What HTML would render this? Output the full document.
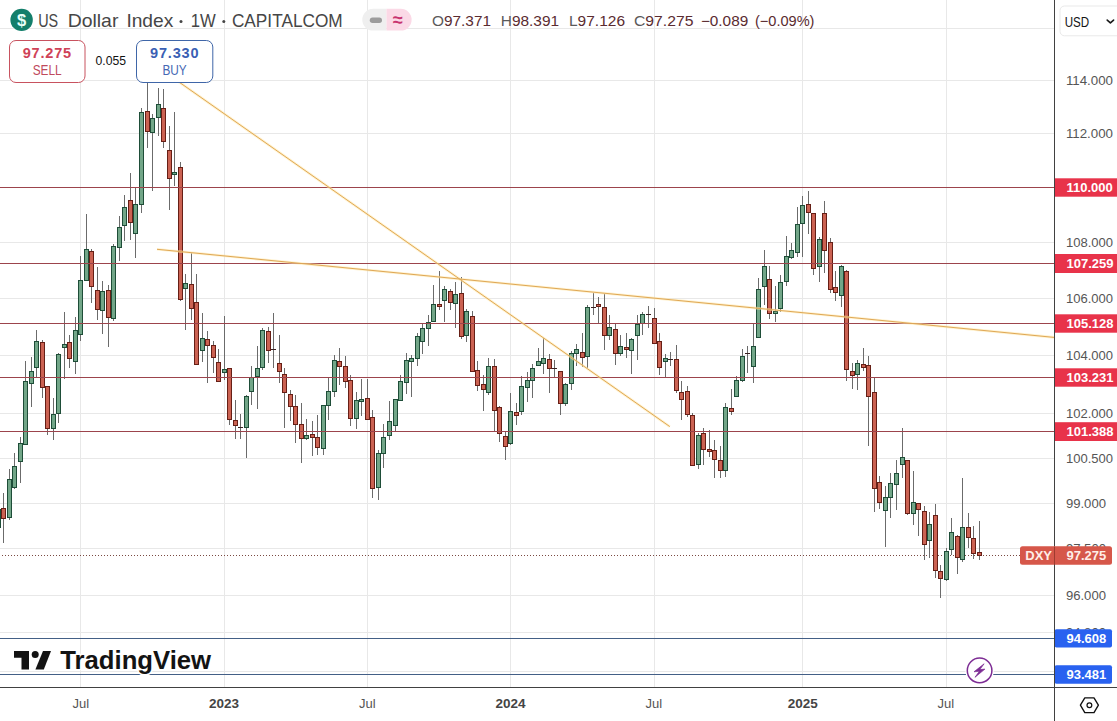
<!DOCTYPE html>
<html><head><meta charset="utf-8"><title>US Dollar Index</title>
<style>html,body{margin:0;padding:0;background:#fff;}body{width:1117px;height:721px;overflow:hidden;position:relative;font-family:"Liberation Sans",sans-serif;}</style></head>
<body>
<svg width="1117" height="721" viewBox="0 0 1117 721" style="position:absolute;left:0;top:0;font-family:'Liberation Sans',sans-serif">
<rect width="1117" height="721" fill="#fff"/>
<g stroke="#e8e8e8" stroke-width="1" shape-rendering="crispEdges">
<line x1="80.5" y1="0" x2="80.5" y2="687.5"/>
<line x1="224.5" y1="0" x2="224.5" y2="687.5"/>
<line x1="367.5" y1="0" x2="367.5" y2="687.5"/>
<line x1="510.5" y1="0" x2="510.5" y2="687.5"/>
<line x1="654.5" y1="0" x2="654.5" y2="687.5"/>
<line x1="802.5" y1="0" x2="802.5" y2="687.5"/>
<line x1="946.5" y1="0" x2="946.5" y2="687.5"/>
<line x1="0" y1="28.5" x2="1054.5" y2="28.5"/>
<line x1="0" y1="80.5" x2="1054.5" y2="80.5"/>
<line x1="0" y1="133.5" x2="1054.5" y2="133.5"/>
<line x1="0" y1="242.5" x2="1054.5" y2="242.5"/>
<line x1="0" y1="298.5" x2="1054.5" y2="298.5"/>
<line x1="0" y1="355.5" x2="1054.5" y2="355.5"/>
<line x1="0" y1="413.5" x2="1054.5" y2="413.5"/>
<line x1="0" y1="458.5" x2="1054.5" y2="458.5"/>
<line x1="0" y1="503.5" x2="1054.5" y2="503.5"/>
<line x1="0" y1="548.5" x2="1054.5" y2="548.5"/>
<line x1="0" y1="595.5" x2="1054.5" y2="595.5"/>
<line x1="0" y1="632.5" x2="1054.5" y2="632.5"/>
<line x1="0" y1="671.5" x2="1054.5" y2="671.5"/>
</g>
<line x1="2" y1="555.5" x2="1021" y2="555.5" stroke="#7a4a42" stroke-width="1" stroke-dasharray="1 2" shape-rendering="crispEdges"/>
<g shape-rendering="crispEdges">
<line x1="-1.5" y1="509" x2="-1.5" y2="527" stroke="#6b6b6b" stroke-width="1"/>
<rect x="-3.5" y="509.5" width="4" height="18" fill="#72a688" stroke="#1e4d38" stroke-width="1"/>
<line x1="3.5" y1="493" x2="3.5" y2="543" stroke="#6b6b6b" stroke-width="1"/>
<rect x="1.5" y="508.5" width="4" height="10" fill="#cb6252" stroke="#661f16" stroke-width="1"/>
<line x1="9.5" y1="469" x2="9.5" y2="520" stroke="#6b6b6b" stroke-width="1"/>
<rect x="7.5" y="479.5" width="4" height="38" fill="#72a688" stroke="#1e4d38" stroke-width="1"/>
<line x1="14.5" y1="453" x2="14.5" y2="489" stroke="#6b6b6b" stroke-width="1"/>
<rect x="12.5" y="466.5" width="4" height="21" fill="#72a688" stroke="#1e4d38" stroke-width="1"/>
<line x1="20.5" y1="437" x2="20.5" y2="483" stroke="#6b6b6b" stroke-width="1"/>
<rect x="18.5" y="443.5" width="4" height="18" fill="#72a688" stroke="#1e4d38" stroke-width="1"/>
<line x1="25.5" y1="361" x2="25.5" y2="444" stroke="#6b6b6b" stroke-width="1"/>
<rect x="23.5" y="381.5" width="4" height="63" fill="#72a688" stroke="#1e4d38" stroke-width="1"/>
<line x1="31.5" y1="357" x2="31.5" y2="407" stroke="#6b6b6b" stroke-width="1"/>
<rect x="29.5" y="371.5" width="4" height="12" fill="#72a688" stroke="#1e4d38" stroke-width="1"/>
<line x1="36.5" y1="330" x2="36.5" y2="378" stroke="#6b6b6b" stroke-width="1"/>
<rect x="34.5" y="341.5" width="4" height="26" fill="#72a688" stroke="#1e4d38" stroke-width="1"/>
<line x1="42.5" y1="340" x2="42.5" y2="398" stroke="#6b6b6b" stroke-width="1"/>
<rect x="40.5" y="342.5" width="4" height="45" fill="#cb6252" stroke="#661f16" stroke-width="1"/>
<line x1="47.5" y1="386" x2="47.5" y2="435" stroke="#6b6b6b" stroke-width="1"/>
<rect x="45.5" y="386.5" width="4" height="42" fill="#cb6252" stroke="#661f16" stroke-width="1"/>
<line x1="53.5" y1="398" x2="53.5" y2="440" stroke="#6b6b6b" stroke-width="1"/>
<rect x="51.5" y="414.5" width="4" height="14" fill="#72a688" stroke="#1e4d38" stroke-width="1"/>
<line x1="58.5" y1="353" x2="58.5" y2="423" stroke="#6b6b6b" stroke-width="1"/>
<rect x="56.5" y="354.5" width="4" height="59" fill="#72a688" stroke="#1e4d38" stroke-width="1"/>
<line x1="64.5" y1="312" x2="64.5" y2="379" stroke="#6b6b6b" stroke-width="1"/>
<rect x="62.5" y="344.5" width="4" height="3" fill="#72a688" stroke="#1e4d38" stroke-width="1"/>
<line x1="69.5" y1="335" x2="69.5" y2="368" stroke="#6b6b6b" stroke-width="1"/>
<rect x="67.5" y="342.5" width="4" height="16" fill="#cb6252" stroke="#661f16" stroke-width="1"/>
<line x1="75.5" y1="317" x2="75.5" y2="374" stroke="#6b6b6b" stroke-width="1"/>
<rect x="73.5" y="330.5" width="4" height="31" fill="#72a688" stroke="#1e4d38" stroke-width="1"/>
<line x1="80.5" y1="256" x2="80.5" y2="341" stroke="#6b6b6b" stroke-width="1"/>
<rect x="78.5" y="280.5" width="4" height="54" fill="#72a688" stroke="#1e4d38" stroke-width="1"/>
<line x1="86.5" y1="214" x2="86.5" y2="281" stroke="#6b6b6b" stroke-width="1"/>
<rect x="84.5" y="249.5" width="4" height="31" fill="#72a688" stroke="#1e4d38" stroke-width="1"/>
<line x1="91.5" y1="249" x2="91.5" y2="303" stroke="#6b6b6b" stroke-width="1"/>
<rect x="89.5" y="251.5" width="4" height="35" fill="#cb6252" stroke="#661f16" stroke-width="1"/>
<line x1="97.5" y1="267" x2="97.5" y2="320" stroke="#6b6b6b" stroke-width="1"/>
<rect x="95.5" y="290.5" width="4" height="19" fill="#cb6252" stroke="#661f16" stroke-width="1"/>
<line x1="102.5" y1="281" x2="102.5" y2="334" stroke="#6b6b6b" stroke-width="1"/>
<rect x="100.5" y="291.5" width="4" height="19" fill="#72a688" stroke="#1e4d38" stroke-width="1"/>
<line x1="108.5" y1="285" x2="108.5" y2="347" stroke="#6b6b6b" stroke-width="1"/>
<rect x="106.5" y="290.5" width="4" height="27" fill="#cb6252" stroke="#661f16" stroke-width="1"/>
<line x1="113.5" y1="244" x2="113.5" y2="321" stroke="#6b6b6b" stroke-width="1"/>
<rect x="111.5" y="246.5" width="4" height="72" fill="#72a688" stroke="#1e4d38" stroke-width="1"/>
<line x1="119.5" y1="216" x2="119.5" y2="261" stroke="#6b6b6b" stroke-width="1"/>
<rect x="117.5" y="227.5" width="4" height="20" fill="#72a688" stroke="#1e4d38" stroke-width="1"/>
<line x1="124.5" y1="195" x2="124.5" y2="241" stroke="#6b6b6b" stroke-width="1"/>
<rect x="122.5" y="207.5" width="4" height="18" fill="#72a688" stroke="#1e4d38" stroke-width="1"/>
<line x1="130.5" y1="173" x2="130.5" y2="240" stroke="#6b6b6b" stroke-width="1"/>
<rect x="128.5" y="200.5" width="4" height="22" fill="#cb6252" stroke="#661f16" stroke-width="1"/>
<line x1="135.5" y1="188" x2="135.5" y2="258" stroke="#6b6b6b" stroke-width="1"/>
<rect x="133.5" y="204.5" width="4" height="29" fill="#72a688" stroke="#1e4d38" stroke-width="1"/>
<line x1="141.5" y1="108" x2="141.5" y2="213" stroke="#6b6b6b" stroke-width="1"/>
<rect x="139.5" y="112.5" width="4" height="92" fill="#72a688" stroke="#1e4d38" stroke-width="1"/>
<line x1="147.5" y1="80" x2="147.5" y2="148" stroke="#6b6b6b" stroke-width="1"/>
<rect x="145.5" y="111.5" width="4" height="20" fill="#cb6252" stroke="#661f16" stroke-width="1"/>
<line x1="152.5" y1="114" x2="152.5" y2="191" stroke="#6b6b6b" stroke-width="1"/>
<rect x="150.5" y="118.5" width="4" height="14" fill="#72a688" stroke="#1e4d38" stroke-width="1"/>
<line x1="158.5" y1="88" x2="158.5" y2="136" stroke="#6b6b6b" stroke-width="1"/>
<rect x="156.5" y="104.5" width="4" height="13" fill="#72a688" stroke="#1e4d38" stroke-width="1"/>
<line x1="163.5" y1="89" x2="163.5" y2="148" stroke="#6b6b6b" stroke-width="1"/>
<rect x="161.5" y="108.5" width="4" height="33" fill="#cb6252" stroke="#661f16" stroke-width="1"/>
<line x1="169.5" y1="126" x2="169.5" y2="210" stroke="#6b6b6b" stroke-width="1"/>
<rect x="167.5" y="150.5" width="4" height="28" fill="#cb6252" stroke="#661f16" stroke-width="1"/>
<line x1="174.5" y1="112" x2="174.5" y2="186" stroke="#6b6b6b" stroke-width="1"/>
<rect x="172.5" y="172.5" width="4" height="2" fill="#72a688" stroke="#1e4d38" stroke-width="1"/>
<line x1="180.5" y1="162" x2="180.5" y2="301" stroke="#6b6b6b" stroke-width="1"/>
<rect x="178.5" y="167.5" width="4" height="132" fill="#cb6252" stroke="#661f16" stroke-width="1"/>
<line x1="185.5" y1="274" x2="185.5" y2="330" stroke="#6b6b6b" stroke-width="1"/>
<rect x="183.5" y="283.5" width="4" height="5" fill="#72a688" stroke="#1e4d38" stroke-width="1"/>
<line x1="191.5" y1="253" x2="191.5" y2="320" stroke="#6b6b6b" stroke-width="1"/>
<rect x="189.5" y="284.5" width="4" height="24" fill="#cb6252" stroke="#661f16" stroke-width="1"/>
<line x1="196.5" y1="274" x2="196.5" y2="364" stroke="#6b6b6b" stroke-width="1"/>
<rect x="194.5" y="302.5" width="4" height="62" fill="#cb6252" stroke="#661f16" stroke-width="1"/>
<line x1="202.5" y1="313" x2="202.5" y2="362" stroke="#6b6b6b" stroke-width="1"/>
<rect x="200.5" y="338.5" width="4" height="12" fill="#72a688" stroke="#1e4d38" stroke-width="1"/>
<line x1="207.5" y1="331" x2="207.5" y2="383" stroke="#6b6b6b" stroke-width="1"/>
<rect x="205.5" y="339.5" width="4" height="6" fill="#cb6252" stroke="#661f16" stroke-width="1"/>
<line x1="213.5" y1="341" x2="213.5" y2="373" stroke="#6b6b6b" stroke-width="1"/>
<rect x="211.5" y="345.5" width="4" height="12" fill="#cb6252" stroke="#661f16" stroke-width="1"/>
<line x1="218.5" y1="349" x2="218.5" y2="382" stroke="#6b6b6b" stroke-width="1"/>
<rect x="216.5" y="362.5" width="4" height="19" fill="#cb6252" stroke="#661f16" stroke-width="1"/>
<line x1="224.5" y1="316" x2="224.5" y2="380" stroke="#6b6b6b" stroke-width="1"/>
<rect x="222.5" y="369.5" width="4" height="3" fill="#72a688" stroke="#1e4d38" stroke-width="1"/>
<line x1="229.5" y1="368" x2="229.5" y2="425" stroke="#6b6b6b" stroke-width="1"/>
<rect x="227.5" y="368.5" width="4" height="51" fill="#cb6252" stroke="#661f16" stroke-width="1"/>
<line x1="235.5" y1="400" x2="235.5" y2="439" stroke="#6b6b6b" stroke-width="1"/>
<rect x="233.5" y="420.5" width="4" height="5" fill="#cb6252" stroke="#661f16" stroke-width="1"/>
<line x1="240.5" y1="414" x2="240.5" y2="439" stroke="#6b6b6b" stroke-width="1"/>
<rect x="238" y="427" width="5" height="1" fill="#3a2020"/>
<line x1="246.5" y1="395" x2="246.5" y2="458" stroke="#6b6b6b" stroke-width="1"/>
<rect x="244.5" y="396.5" width="4" height="31" fill="#72a688" stroke="#1e4d38" stroke-width="1"/>
<line x1="251.5" y1="366" x2="251.5" y2="405" stroke="#6b6b6b" stroke-width="1"/>
<rect x="249.5" y="377.5" width="4" height="14" fill="#72a688" stroke="#1e4d38" stroke-width="1"/>
<line x1="257.5" y1="346" x2="257.5" y2="409" stroke="#6b6b6b" stroke-width="1"/>
<rect x="255.5" y="368.5" width="4" height="8" fill="#72a688" stroke="#1e4d38" stroke-width="1"/>
<line x1="262.5" y1="328" x2="262.5" y2="370" stroke="#6b6b6b" stroke-width="1"/>
<rect x="260.5" y="330.5" width="4" height="37" fill="#72a688" stroke="#1e4d38" stroke-width="1"/>
<line x1="268.5" y1="327" x2="268.5" y2="363" stroke="#6b6b6b" stroke-width="1"/>
<rect x="266.5" y="331.5" width="4" height="19" fill="#cb6252" stroke="#661f16" stroke-width="1"/>
<line x1="273.5" y1="313" x2="273.5" y2="368" stroke="#6b6b6b" stroke-width="1"/>
<rect x="271" y="349" width="5" height="1" fill="#3a2020"/>
<line x1="279.5" y1="335" x2="279.5" y2="383" stroke="#6b6b6b" stroke-width="1"/>
<rect x="277.5" y="363.5" width="4" height="8" fill="#cb6252" stroke="#661f16" stroke-width="1"/>
<line x1="284.5" y1="368" x2="284.5" y2="428" stroke="#6b6b6b" stroke-width="1"/>
<rect x="282.5" y="374.5" width="4" height="18" fill="#cb6252" stroke="#661f16" stroke-width="1"/>
<line x1="290.5" y1="390" x2="290.5" y2="421" stroke="#6b6b6b" stroke-width="1"/>
<rect x="288.5" y="394.5" width="4" height="12" fill="#cb6252" stroke="#661f16" stroke-width="1"/>
<line x1="295.5" y1="395" x2="295.5" y2="443" stroke="#6b6b6b" stroke-width="1"/>
<rect x="293.5" y="406.5" width="4" height="18" fill="#cb6252" stroke="#661f16" stroke-width="1"/>
<line x1="301.5" y1="403" x2="301.5" y2="463" stroke="#6b6b6b" stroke-width="1"/>
<rect x="299.5" y="424.5" width="4" height="14" fill="#cb6252" stroke="#661f16" stroke-width="1"/>
<line x1="306.5" y1="419" x2="306.5" y2="440" stroke="#6b6b6b" stroke-width="1"/>
<rect x="304.5" y="435.5" width="4" height="3" fill="#72a688" stroke="#1e4d38" stroke-width="1"/>
<line x1="312.5" y1="421" x2="312.5" y2="456" stroke="#6b6b6b" stroke-width="1"/>
<rect x="310.5" y="434.5" width="4" height="3" fill="#cb6252" stroke="#661f16" stroke-width="1"/>
<line x1="317.5" y1="415" x2="317.5" y2="455" stroke="#6b6b6b" stroke-width="1"/>
<rect x="315.5" y="437.5" width="4" height="10" fill="#cb6252" stroke="#661f16" stroke-width="1"/>
<line x1="323.5" y1="405" x2="323.5" y2="455" stroke="#6b6b6b" stroke-width="1"/>
<rect x="321.5" y="405.5" width="4" height="43" fill="#72a688" stroke="#1e4d38" stroke-width="1"/>
<line x1="328.5" y1="378" x2="328.5" y2="420" stroke="#6b6b6b" stroke-width="1"/>
<rect x="326.5" y="391.5" width="4" height="14" fill="#72a688" stroke="#1e4d38" stroke-width="1"/>
<line x1="334.5" y1="355" x2="334.5" y2="397" stroke="#6b6b6b" stroke-width="1"/>
<rect x="332.5" y="360.5" width="4" height="31" fill="#72a688" stroke="#1e4d38" stroke-width="1"/>
<line x1="339.5" y1="348" x2="339.5" y2="385" stroke="#6b6b6b" stroke-width="1"/>
<rect x="337.5" y="361.5" width="4" height="5" fill="#cb6252" stroke="#661f16" stroke-width="1"/>
<line x1="345.5" y1="356" x2="345.5" y2="388" stroke="#6b6b6b" stroke-width="1"/>
<rect x="343.5" y="366.5" width="4" height="15" fill="#cb6252" stroke="#661f16" stroke-width="1"/>
<line x1="350.5" y1="375" x2="350.5" y2="426" stroke="#6b6b6b" stroke-width="1"/>
<rect x="348.5" y="380.5" width="4" height="38" fill="#cb6252" stroke="#661f16" stroke-width="1"/>
<line x1="356.5" y1="392" x2="356.5" y2="429" stroke="#6b6b6b" stroke-width="1"/>
<rect x="354.5" y="400.5" width="4" height="18" fill="#72a688" stroke="#1e4d38" stroke-width="1"/>
<line x1="361.5" y1="379" x2="361.5" y2="416" stroke="#6b6b6b" stroke-width="1"/>
<rect x="359.5" y="399.5" width="4" height="2" fill="#72a688" stroke="#1e4d38" stroke-width="1"/>
<line x1="367.5" y1="379" x2="367.5" y2="419" stroke="#6b6b6b" stroke-width="1"/>
<rect x="365.5" y="398.5" width="4" height="21" fill="#cb6252" stroke="#661f16" stroke-width="1"/>
<line x1="372.5" y1="410" x2="372.5" y2="498" stroke="#6b6b6b" stroke-width="1"/>
<rect x="370.5" y="417.5" width="4" height="71" fill="#cb6252" stroke="#661f16" stroke-width="1"/>
<line x1="378.5" y1="450" x2="378.5" y2="500" stroke="#6b6b6b" stroke-width="1"/>
<rect x="376.5" y="453.5" width="4" height="34" fill="#72a688" stroke="#1e4d38" stroke-width="1"/>
<line x1="383.5" y1="424" x2="383.5" y2="468" stroke="#6b6b6b" stroke-width="1"/>
<rect x="381.5" y="437.5" width="4" height="16" fill="#72a688" stroke="#1e4d38" stroke-width="1"/>
<line x1="389.5" y1="401" x2="389.5" y2="440" stroke="#6b6b6b" stroke-width="1"/>
<rect x="387.5" y="421.5" width="4" height="14" fill="#72a688" stroke="#1e4d38" stroke-width="1"/>
<line x1="395.5" y1="399" x2="395.5" y2="431" stroke="#6b6b6b" stroke-width="1"/>
<rect x="393.5" y="399.5" width="4" height="26" fill="#72a688" stroke="#1e4d38" stroke-width="1"/>
<line x1="400.5" y1="375" x2="400.5" y2="401" stroke="#6b6b6b" stroke-width="1"/>
<rect x="398.5" y="381.5" width="4" height="19" fill="#72a688" stroke="#1e4d38" stroke-width="1"/>
<line x1="406.5" y1="353" x2="406.5" y2="394" stroke="#6b6b6b" stroke-width="1"/>
<rect x="404.5" y="360.5" width="4" height="22" fill="#72a688" stroke="#1e4d38" stroke-width="1"/>
<line x1="411.5" y1="355" x2="411.5" y2="397" stroke="#6b6b6b" stroke-width="1"/>
<rect x="409.5" y="358.5" width="4" height="3" fill="#72a688" stroke="#1e4d38" stroke-width="1"/>
<line x1="417.5" y1="333" x2="417.5" y2="366" stroke="#6b6b6b" stroke-width="1"/>
<rect x="415.5" y="336.5" width="4" height="22" fill="#72a688" stroke="#1e4d38" stroke-width="1"/>
<line x1="422.5" y1="324" x2="422.5" y2="354" stroke="#6b6b6b" stroke-width="1"/>
<rect x="420.5" y="328.5" width="4" height="13" fill="#72a688" stroke="#1e4d38" stroke-width="1"/>
<line x1="428.5" y1="315" x2="428.5" y2="346" stroke="#6b6b6b" stroke-width="1"/>
<rect x="426.5" y="322.5" width="4" height="6" fill="#72a688" stroke="#1e4d38" stroke-width="1"/>
<line x1="433.5" y1="285" x2="433.5" y2="322" stroke="#6b6b6b" stroke-width="1"/>
<rect x="431.5" y="304.5" width="4" height="17" fill="#72a688" stroke="#1e4d38" stroke-width="1"/>
<line x1="439.5" y1="271" x2="439.5" y2="310" stroke="#6b6b6b" stroke-width="1"/>
<rect x="437.5" y="304.5" width="4" height="2" fill="#cb6252" stroke="#661f16" stroke-width="1"/>
<line x1="444.5" y1="286" x2="444.5" y2="322" stroke="#6b6b6b" stroke-width="1"/>
<rect x="442.5" y="289.5" width="4" height="11" fill="#72a688" stroke="#1e4d38" stroke-width="1"/>
<line x1="450.5" y1="289" x2="450.5" y2="310" stroke="#6b6b6b" stroke-width="1"/>
<rect x="448.5" y="291.5" width="4" height="11" fill="#cb6252" stroke="#661f16" stroke-width="1"/>
<line x1="455.5" y1="282" x2="455.5" y2="328" stroke="#6b6b6b" stroke-width="1"/>
<rect x="453.5" y="294.5" width="4" height="9" fill="#72a688" stroke="#1e4d38" stroke-width="1"/>
<line x1="461.5" y1="277" x2="461.5" y2="339" stroke="#6b6b6b" stroke-width="1"/>
<rect x="459.5" y="293.5" width="4" height="43" fill="#cb6252" stroke="#661f16" stroke-width="1"/>
<line x1="466.5" y1="309" x2="466.5" y2="342" stroke="#6b6b6b" stroke-width="1"/>
<rect x="464.5" y="311.5" width="4" height="24" fill="#72a688" stroke="#1e4d38" stroke-width="1"/>
<line x1="472.5" y1="311" x2="472.5" y2="371" stroke="#6b6b6b" stroke-width="1"/>
<rect x="470.5" y="316.5" width="4" height="55" fill="#cb6252" stroke="#661f16" stroke-width="1"/>
<line x1="477.5" y1="361" x2="477.5" y2="391" stroke="#6b6b6b" stroke-width="1"/>
<rect x="475.5" y="370.5" width="4" height="15" fill="#cb6252" stroke="#661f16" stroke-width="1"/>
<line x1="483.5" y1="375" x2="483.5" y2="411" stroke="#6b6b6b" stroke-width="1"/>
<rect x="481.5" y="384.5" width="4" height="5" fill="#cb6252" stroke="#661f16" stroke-width="1"/>
<line x1="488.5" y1="358" x2="488.5" y2="395" stroke="#6b6b6b" stroke-width="1"/>
<rect x="486.5" y="366.5" width="4" height="26" fill="#72a688" stroke="#1e4d38" stroke-width="1"/>
<line x1="494.5" y1="359" x2="494.5" y2="431" stroke="#6b6b6b" stroke-width="1"/>
<rect x="492.5" y="366.5" width="4" height="44" fill="#cb6252" stroke="#661f16" stroke-width="1"/>
<line x1="499.5" y1="406" x2="499.5" y2="442" stroke="#6b6b6b" stroke-width="1"/>
<rect x="497.5" y="407.5" width="4" height="26" fill="#cb6252" stroke="#661f16" stroke-width="1"/>
<line x1="505.5" y1="431" x2="505.5" y2="460" stroke="#6b6b6b" stroke-width="1"/>
<rect x="503.5" y="436.5" width="4" height="10" fill="#cb6252" stroke="#661f16" stroke-width="1"/>
<line x1="510.5" y1="393" x2="510.5" y2="445" stroke="#6b6b6b" stroke-width="1"/>
<rect x="508.5" y="411.5" width="4" height="32" fill="#72a688" stroke="#1e4d38" stroke-width="1"/>
<line x1="516.5" y1="403" x2="516.5" y2="425" stroke="#6b6b6b" stroke-width="1"/>
<rect x="514.5" y="412.5" width="4" height="3" fill="#cb6252" stroke="#661f16" stroke-width="1"/>
<line x1="521.5" y1="376" x2="521.5" y2="415" stroke="#6b6b6b" stroke-width="1"/>
<rect x="519.5" y="386.5" width="4" height="25" fill="#72a688" stroke="#1e4d38" stroke-width="1"/>
<line x1="527.5" y1="372" x2="527.5" y2="402" stroke="#6b6b6b" stroke-width="1"/>
<rect x="525.5" y="380.5" width="4" height="7" fill="#72a688" stroke="#1e4d38" stroke-width="1"/>
<line x1="532.5" y1="364" x2="532.5" y2="398" stroke="#6b6b6b" stroke-width="1"/>
<rect x="530.5" y="368.5" width="4" height="12" fill="#72a688" stroke="#1e4d38" stroke-width="1"/>
<line x1="538.5" y1="348" x2="538.5" y2="366" stroke="#6b6b6b" stroke-width="1"/>
<rect x="536.5" y="361.5" width="4" height="4" fill="#72a688" stroke="#1e4d38" stroke-width="1"/>
<line x1="543.5" y1="338" x2="543.5" y2="374" stroke="#6b6b6b" stroke-width="1"/>
<rect x="541.5" y="358.5" width="4" height="5" fill="#72a688" stroke="#1e4d38" stroke-width="1"/>
<line x1="549.5" y1="354" x2="549.5" y2="393" stroke="#6b6b6b" stroke-width="1"/>
<rect x="547.5" y="359.5" width="4" height="9" fill="#cb6252" stroke="#661f16" stroke-width="1"/>
<line x1="554.5" y1="360" x2="554.5" y2="378" stroke="#6b6b6b" stroke-width="1"/>
<rect x="552" y="368" width="5" height="1" fill="#3a2020"/>
<line x1="560.5" y1="371" x2="560.5" y2="415" stroke="#6b6b6b" stroke-width="1"/>
<rect x="558.5" y="371.5" width="4" height="32" fill="#cb6252" stroke="#661f16" stroke-width="1"/>
<line x1="565.5" y1="383" x2="565.5" y2="406" stroke="#6b6b6b" stroke-width="1"/>
<rect x="563.5" y="384.5" width="4" height="19" fill="#72a688" stroke="#1e4d38" stroke-width="1"/>
<line x1="571.5" y1="351" x2="571.5" y2="390" stroke="#6b6b6b" stroke-width="1"/>
<rect x="569.5" y="353.5" width="4" height="30" fill="#72a688" stroke="#1e4d38" stroke-width="1"/>
<line x1="576.5" y1="344" x2="576.5" y2="366" stroke="#6b6b6b" stroke-width="1"/>
<rect x="574.5" y="349.5" width="4" height="4" fill="#72a688" stroke="#1e4d38" stroke-width="1"/>
<line x1="582.5" y1="333" x2="582.5" y2="367" stroke="#6b6b6b" stroke-width="1"/>
<rect x="580.5" y="352.5" width="4" height="5" fill="#cb6252" stroke="#661f16" stroke-width="1"/>
<line x1="587.5" y1="305" x2="587.5" y2="368" stroke="#6b6b6b" stroke-width="1"/>
<rect x="585.5" y="307.5" width="4" height="49" fill="#72a688" stroke="#1e4d38" stroke-width="1"/>
<line x1="593.5" y1="293" x2="593.5" y2="315" stroke="#6b6b6b" stroke-width="1"/>
<rect x="591" y="307" width="5" height="1" fill="#3a2020"/>
<line x1="598.5" y1="297" x2="598.5" y2="323" stroke="#6b6b6b" stroke-width="1"/>
<rect x="596.5" y="304.5" width="4" height="2" fill="#cb6252" stroke="#661f16" stroke-width="1"/>
<line x1="604.5" y1="294" x2="604.5" y2="350" stroke="#6b6b6b" stroke-width="1"/>
<rect x="602.5" y="307.5" width="4" height="28" fill="#cb6252" stroke="#661f16" stroke-width="1"/>
<line x1="609.5" y1="315" x2="609.5" y2="340" stroke="#6b6b6b" stroke-width="1"/>
<rect x="607.5" y="327.5" width="4" height="8" fill="#72a688" stroke="#1e4d38" stroke-width="1"/>
<line x1="615.5" y1="324" x2="615.5" y2="365" stroke="#6b6b6b" stroke-width="1"/>
<rect x="613.5" y="329.5" width="4" height="24" fill="#cb6252" stroke="#661f16" stroke-width="1"/>
<line x1="620.5" y1="335" x2="620.5" y2="356" stroke="#6b6b6b" stroke-width="1"/>
<rect x="618.5" y="346.5" width="4" height="7" fill="#72a688" stroke="#1e4d38" stroke-width="1"/>
<line x1="626.5" y1="333" x2="626.5" y2="358" stroke="#6b6b6b" stroke-width="1"/>
<rect x="624.5" y="347.5" width="4" height="2" fill="#cb6252" stroke="#661f16" stroke-width="1"/>
<line x1="631.5" y1="338" x2="631.5" y2="374" stroke="#6b6b6b" stroke-width="1"/>
<rect x="629.5" y="339.5" width="4" height="11" fill="#72a688" stroke="#1e4d38" stroke-width="1"/>
<line x1="637.5" y1="315" x2="637.5" y2="360" stroke="#6b6b6b" stroke-width="1"/>
<rect x="635.5" y="324.5" width="4" height="11" fill="#72a688" stroke="#1e4d38" stroke-width="1"/>
<line x1="642.5" y1="312" x2="642.5" y2="335" stroke="#6b6b6b" stroke-width="1"/>
<rect x="640.5" y="314.5" width="4" height="9" fill="#72a688" stroke="#1e4d38" stroke-width="1"/>
<line x1="648.5" y1="306" x2="648.5" y2="328" stroke="#6b6b6b" stroke-width="1"/>
<rect x="646" y="314" width="5" height="1" fill="#3a2020"/>
<line x1="654.5" y1="308" x2="654.5" y2="343" stroke="#6b6b6b" stroke-width="1"/>
<rect x="652.5" y="318.5" width="4" height="25" fill="#cb6252" stroke="#661f16" stroke-width="1"/>
<line x1="659.5" y1="333" x2="659.5" y2="375" stroke="#6b6b6b" stroke-width="1"/>
<rect x="657.5" y="341.5" width="4" height="26" fill="#cb6252" stroke="#661f16" stroke-width="1"/>
<line x1="665.5" y1="354" x2="665.5" y2="378" stroke="#6b6b6b" stroke-width="1"/>
<rect x="663.5" y="358.5" width="4" height="3" fill="#72a688" stroke="#1e4d38" stroke-width="1"/>
<line x1="670.5" y1="352" x2="670.5" y2="366" stroke="#6b6b6b" stroke-width="1"/>
<rect x="668" y="359" width="5" height="1" fill="#3a2020"/>
<line x1="676.5" y1="345" x2="676.5" y2="393" stroke="#6b6b6b" stroke-width="1"/>
<rect x="674.5" y="359.5" width="4" height="31" fill="#cb6252" stroke="#661f16" stroke-width="1"/>
<line x1="681.5" y1="381" x2="681.5" y2="420" stroke="#6b6b6b" stroke-width="1"/>
<rect x="679.5" y="392.5" width="4" height="7" fill="#cb6252" stroke="#661f16" stroke-width="1"/>
<line x1="687.5" y1="386" x2="687.5" y2="417" stroke="#6b6b6b" stroke-width="1"/>
<rect x="685.5" y="391.5" width="4" height="23" fill="#cb6252" stroke="#661f16" stroke-width="1"/>
<line x1="692.5" y1="413" x2="692.5" y2="466" stroke="#6b6b6b" stroke-width="1"/>
<rect x="690.5" y="415.5" width="4" height="50" fill="#cb6252" stroke="#661f16" stroke-width="1"/>
<line x1="698.5" y1="433" x2="698.5" y2="469" stroke="#6b6b6b" stroke-width="1"/>
<rect x="696.5" y="435.5" width="4" height="29" fill="#72a688" stroke="#1e4d38" stroke-width="1"/>
<line x1="703.5" y1="428" x2="703.5" y2="465" stroke="#6b6b6b" stroke-width="1"/>
<rect x="701.5" y="433.5" width="4" height="16" fill="#cb6252" stroke="#661f16" stroke-width="1"/>
<line x1="709.5" y1="430" x2="709.5" y2="457" stroke="#6b6b6b" stroke-width="1"/>
<rect x="707.5" y="449.5" width="4" height="2" fill="#cb6252" stroke="#661f16" stroke-width="1"/>
<line x1="714.5" y1="440" x2="714.5" y2="478" stroke="#6b6b6b" stroke-width="1"/>
<rect x="712.5" y="450.5" width="4" height="9" fill="#cb6252" stroke="#661f16" stroke-width="1"/>
<line x1="720.5" y1="446" x2="720.5" y2="478" stroke="#6b6b6b" stroke-width="1"/>
<rect x="718.5" y="460.5" width="4" height="10" fill="#cb6252" stroke="#661f16" stroke-width="1"/>
<line x1="725.5" y1="403" x2="725.5" y2="477" stroke="#6b6b6b" stroke-width="1"/>
<rect x="723.5" y="407.5" width="4" height="63" fill="#72a688" stroke="#1e4d38" stroke-width="1"/>
<line x1="731.5" y1="389" x2="731.5" y2="415" stroke="#6b6b6b" stroke-width="1"/>
<rect x="729.5" y="408.5" width="4" height="3" fill="#cb6252" stroke="#661f16" stroke-width="1"/>
<line x1="736.5" y1="376" x2="736.5" y2="397" stroke="#6b6b6b" stroke-width="1"/>
<rect x="734.5" y="380.5" width="4" height="16" fill="#72a688" stroke="#1e4d38" stroke-width="1"/>
<line x1="742.5" y1="349" x2="742.5" y2="382" stroke="#6b6b6b" stroke-width="1"/>
<rect x="740.5" y="356.5" width="4" height="24" fill="#72a688" stroke="#1e4d38" stroke-width="1"/>
<line x1="747.5" y1="346" x2="747.5" y2="373" stroke="#6b6b6b" stroke-width="1"/>
<rect x="745" y="353" width="5" height="1" fill="#3a2020"/>
<line x1="753.5" y1="323" x2="753.5" y2="383" stroke="#6b6b6b" stroke-width="1"/>
<rect x="751.5" y="346.5" width="4" height="20" fill="#72a688" stroke="#1e4d38" stroke-width="1"/>
<line x1="758.5" y1="278" x2="758.5" y2="338" stroke="#6b6b6b" stroke-width="1"/>
<rect x="756.5" y="289.5" width="4" height="48" fill="#72a688" stroke="#1e4d38" stroke-width="1"/>
<line x1="764.5" y1="250" x2="764.5" y2="305" stroke="#6b6b6b" stroke-width="1"/>
<rect x="762.5" y="266.5" width="4" height="20" fill="#72a688" stroke="#1e4d38" stroke-width="1"/>
<line x1="769.5" y1="266" x2="769.5" y2="319" stroke="#6b6b6b" stroke-width="1"/>
<rect x="767.5" y="279.5" width="4" height="34" fill="#cb6252" stroke="#661f16" stroke-width="1"/>
<line x1="775.5" y1="286" x2="775.5" y2="322" stroke="#6b6b6b" stroke-width="1"/>
<rect x="773.5" y="311.5" width="4" height="2" fill="#72a688" stroke="#1e4d38" stroke-width="1"/>
<line x1="780.5" y1="275" x2="780.5" y2="312" stroke="#6b6b6b" stroke-width="1"/>
<rect x="778.5" y="282.5" width="4" height="26" fill="#72a688" stroke="#1e4d38" stroke-width="1"/>
<line x1="786.5" y1="236" x2="786.5" y2="286" stroke="#6b6b6b" stroke-width="1"/>
<rect x="784.5" y="256.5" width="4" height="25" fill="#72a688" stroke="#1e4d38" stroke-width="1"/>
<line x1="791.5" y1="243" x2="791.5" y2="259" stroke="#6b6b6b" stroke-width="1"/>
<rect x="789.5" y="250.5" width="4" height="7" fill="#72a688" stroke="#1e4d38" stroke-width="1"/>
<line x1="797.5" y1="207" x2="797.5" y2="257" stroke="#6b6b6b" stroke-width="1"/>
<rect x="795.5" y="224.5" width="4" height="28" fill="#72a688" stroke="#1e4d38" stroke-width="1"/>
<line x1="802.5" y1="196" x2="802.5" y2="257" stroke="#6b6b6b" stroke-width="1"/>
<rect x="800.5" y="205.5" width="4" height="18" fill="#72a688" stroke="#1e4d38" stroke-width="1"/>
<line x1="808.5" y1="191" x2="808.5" y2="234" stroke="#6b6b6b" stroke-width="1"/>
<rect x="806.5" y="204.5" width="4" height="8" fill="#cb6252" stroke="#661f16" stroke-width="1"/>
<line x1="813.5" y1="213" x2="813.5" y2="275" stroke="#6b6b6b" stroke-width="1"/>
<rect x="811.5" y="213.5" width="4" height="55" fill="#cb6252" stroke="#661f16" stroke-width="1"/>
<line x1="819.5" y1="237" x2="819.5" y2="282" stroke="#6b6b6b" stroke-width="1"/>
<rect x="817.5" y="239.5" width="4" height="27" fill="#72a688" stroke="#1e4d38" stroke-width="1"/>
<line x1="824.5" y1="201" x2="824.5" y2="273" stroke="#6b6b6b" stroke-width="1"/>
<rect x="822.5" y="213.5" width="4" height="37" fill="#cb6252" stroke="#661f16" stroke-width="1"/>
<line x1="830.5" y1="238" x2="830.5" y2="293" stroke="#6b6b6b" stroke-width="1"/>
<rect x="828.5" y="242.5" width="4" height="47" fill="#cb6252" stroke="#661f16" stroke-width="1"/>
<line x1="835.5" y1="271" x2="835.5" y2="301" stroke="#6b6b6b" stroke-width="1"/>
<rect x="833.5" y="287.5" width="4" height="5" fill="#cb6252" stroke="#661f16" stroke-width="1"/>
<line x1="841.5" y1="265" x2="841.5" y2="307" stroke="#6b6b6b" stroke-width="1"/>
<rect x="839.5" y="266.5" width="4" height="29" fill="#72a688" stroke="#1e4d38" stroke-width="1"/>
<line x1="846.5" y1="270" x2="846.5" y2="381" stroke="#6b6b6b" stroke-width="1"/>
<rect x="844.5" y="271.5" width="4" height="98" fill="#cb6252" stroke="#661f16" stroke-width="1"/>
<line x1="852.5" y1="363" x2="852.5" y2="389" stroke="#6b6b6b" stroke-width="1"/>
<rect x="850.5" y="371.5" width="4" height="4" fill="#cb6252" stroke="#661f16" stroke-width="1"/>
<line x1="857.5" y1="360" x2="857.5" y2="390" stroke="#6b6b6b" stroke-width="1"/>
<rect x="855.5" y="363.5" width="4" height="11" fill="#72a688" stroke="#1e4d38" stroke-width="1"/>
<line x1="863.5" y1="348" x2="863.5" y2="371" stroke="#6b6b6b" stroke-width="1"/>
<rect x="861.5" y="364.5" width="4" height="3" fill="#cb6252" stroke="#661f16" stroke-width="1"/>
<line x1="868.5" y1="356" x2="868.5" y2="446" stroke="#6b6b6b" stroke-width="1"/>
<rect x="866.5" y="365.5" width="4" height="31" fill="#cb6252" stroke="#661f16" stroke-width="1"/>
<line x1="874.5" y1="378" x2="874.5" y2="512" stroke="#6b6b6b" stroke-width="1"/>
<rect x="872.5" y="392.5" width="4" height="96" fill="#cb6252" stroke="#661f16" stroke-width="1"/>
<line x1="879.5" y1="476" x2="879.5" y2="509" stroke="#6b6b6b" stroke-width="1"/>
<rect x="877.5" y="482.5" width="4" height="20" fill="#cb6252" stroke="#661f16" stroke-width="1"/>
<line x1="885.5" y1="486" x2="885.5" y2="547" stroke="#6b6b6b" stroke-width="1"/>
<rect x="883.5" y="497.5" width="4" height="13" fill="#72a688" stroke="#1e4d38" stroke-width="1"/>
<line x1="890.5" y1="473" x2="890.5" y2="518" stroke="#6b6b6b" stroke-width="1"/>
<rect x="888.5" y="483.5" width="4" height="14" fill="#72a688" stroke="#1e4d38" stroke-width="1"/>
<line x1="896.5" y1="460" x2="896.5" y2="510" stroke="#6b6b6b" stroke-width="1"/>
<rect x="894.5" y="473.5" width="4" height="11" fill="#72a688" stroke="#1e4d38" stroke-width="1"/>
<line x1="902.5" y1="428" x2="902.5" y2="478" stroke="#6b6b6b" stroke-width="1"/>
<rect x="900.5" y="457.5" width="4" height="7" fill="#72a688" stroke="#1e4d38" stroke-width="1"/>
<line x1="907.5" y1="460" x2="907.5" y2="515" stroke="#6b6b6b" stroke-width="1"/>
<rect x="905.5" y="460.5" width="4" height="53" fill="#cb6252" stroke="#661f16" stroke-width="1"/>
<line x1="913.5" y1="471" x2="913.5" y2="525" stroke="#6b6b6b" stroke-width="1"/>
<rect x="911.5" y="502.5" width="4" height="11" fill="#72a688" stroke="#1e4d38" stroke-width="1"/>
<line x1="918.5" y1="503" x2="918.5" y2="536" stroke="#6b6b6b" stroke-width="1"/>
<rect x="916.5" y="503.5" width="4" height="6" fill="#cb6252" stroke="#661f16" stroke-width="1"/>
<line x1="924.5" y1="506" x2="924.5" y2="560" stroke="#6b6b6b" stroke-width="1"/>
<rect x="922.5" y="511.5" width="4" height="33" fill="#cb6252" stroke="#661f16" stroke-width="1"/>
<line x1="929.5" y1="512" x2="929.5" y2="558" stroke="#6b6b6b" stroke-width="1"/>
<rect x="927.5" y="524.5" width="4" height="16" fill="#72a688" stroke="#1e4d38" stroke-width="1"/>
<line x1="935.5" y1="504" x2="935.5" y2="578" stroke="#6b6b6b" stroke-width="1"/>
<rect x="933.5" y="515.5" width="4" height="55" fill="#cb6252" stroke="#661f16" stroke-width="1"/>
<line x1="940.5" y1="565" x2="940.5" y2="598" stroke="#6b6b6b" stroke-width="1"/>
<rect x="938.5" y="571.5" width="4" height="7" fill="#cb6252" stroke="#661f16" stroke-width="1"/>
<line x1="946.5" y1="548" x2="946.5" y2="581" stroke="#6b6b6b" stroke-width="1"/>
<rect x="944.5" y="551.5" width="4" height="28" fill="#72a688" stroke="#1e4d38" stroke-width="1"/>
<line x1="951.5" y1="518" x2="951.5" y2="555" stroke="#6b6b6b" stroke-width="1"/>
<rect x="949.5" y="532.5" width="4" height="17" fill="#72a688" stroke="#1e4d38" stroke-width="1"/>
<line x1="957.5" y1="535" x2="957.5" y2="574" stroke="#6b6b6b" stroke-width="1"/>
<rect x="955.5" y="536.5" width="4" height="21" fill="#cb6252" stroke="#661f16" stroke-width="1"/>
<line x1="962.5" y1="478" x2="962.5" y2="562" stroke="#6b6b6b" stroke-width="1"/>
<rect x="960.5" y="527.5" width="4" height="32" fill="#72a688" stroke="#1e4d38" stroke-width="1"/>
<line x1="968.5" y1="513" x2="968.5" y2="548" stroke="#6b6b6b" stroke-width="1"/>
<rect x="966.5" y="527.5" width="4" height="10" fill="#cb6252" stroke="#661f16" stroke-width="1"/>
<line x1="973.5" y1="526" x2="973.5" y2="559" stroke="#6b6b6b" stroke-width="1"/>
<rect x="971.5" y="538.5" width="4" height="15" fill="#cb6252" stroke="#661f16" stroke-width="1"/>
<line x1="979.5" y1="521" x2="979.5" y2="560" stroke="#6b6b6b" stroke-width="1"/>
<rect x="977.5" y="552.5" width="4" height="3" fill="#cb6252" stroke="#661f16" stroke-width="1"/>
</g>
<g stroke="#9c444c" stroke-width="1" shape-rendering="crispEdges">
<line x1="0" y1="187.5" x2="1054.5" y2="187.5"/>
<line x1="0" y1="263.5" x2="1054.5" y2="263.5"/>
<line x1="0" y1="323.5" x2="1054.5" y2="323.5"/>
<line x1="0" y1="377.5" x2="1054.5" y2="377.5"/>
<line x1="0" y1="431.5" x2="1054.5" y2="431.5"/>
</g>
<g stroke="#435f86" stroke-width="1" shape-rendering="crispEdges">
<line x1="0" y1="638.5" x2="1054.5" y2="638.5"/>
<line x1="0" y1="674.5" x2="1054.5" y2="674.5"/>
</g>
<g stroke="#ffe7a8" stroke-width="2.6" stroke-opacity="0.55" fill="none"><line x1="166" y1="72.9" x2="669.8" y2="426.6"/><line x1="157" y1="249.3" x2="1054" y2="337.4"/></g>
<g stroke="#dfa755" stroke-width="1" fill="none"><line x1="166" y1="72.9" x2="669.8" y2="426.6"/><line x1="157" y1="249.3" x2="1054" y2="337.4"/></g>
<rect x="1054.5" y="0" width="62.5" height="721" fill="#fff"/>
<rect x="0" y="687.5" width="1117" height="33.5" fill="#fff"/>
<g font-size="13" fill="#555">
<text x="1065.9" y="85.0" textLength="47.1" lengthAdjust="spacingAndGlyphs">114.000</text>
<text x="1065.9" y="137.8" textLength="47.1" lengthAdjust="spacingAndGlyphs">112.000</text>
<text x="1065.9" y="247.2" textLength="47.1" lengthAdjust="spacingAndGlyphs">108.000</text>
<text x="1065.9" y="303.0" textLength="47.1" lengthAdjust="spacingAndGlyphs">106.000</text>
<text x="1065.9" y="360.0" textLength="47.1" lengthAdjust="spacingAndGlyphs">104.000</text>
<text x="1065.9" y="417.7" textLength="47.1" lengthAdjust="spacingAndGlyphs">102.000</text>
<text x="1065.9" y="463.0" textLength="47.1" lengthAdjust="spacingAndGlyphs">100.500</text>
<text x="1065.9" y="508.1" textLength="40.1" lengthAdjust="spacingAndGlyphs">99.000</text>
<text x="1065.9" y="553.3" textLength="40.1" lengthAdjust="spacingAndGlyphs">97.500</text>
<text x="1065.9" y="599.9" textLength="40.1" lengthAdjust="spacingAndGlyphs">96.000</text>
<text x="1065.9" y="637.2" textLength="40.1" lengthAdjust="spacingAndGlyphs">94.800</text>
</g>
<rect x="1054.5" y="178.3" width="62.5" height="18.4" fill="#e8334a" rx="0"/>
<text x="1066.5" y="192.2" font-size="13" font-weight="bold" fill="#fff">110.000</text>
<rect x="1054.5" y="254.0" width="62.5" height="19.0" fill="#e8334a" rx="0"/>
<text x="1066.5" y="268.2" font-size="13" font-weight="bold" fill="#fff">107.259</text>
<rect x="1054.5" y="314.3" width="62.5" height="18.4" fill="#e8334a" rx="0"/>
<text x="1066.5" y="328.2" font-size="13" font-weight="bold" fill="#fff">105.128</text>
<rect x="1054.5" y="368.3" width="62.5" height="18.4" fill="#e8334a" rx="0"/>
<text x="1066.5" y="382.2" font-size="13" font-weight="bold" fill="#fff">103.231</text>
<rect x="1054.5" y="422.2" width="62.5" height="18.8" fill="#e8334a" rx="0"/>
<text x="1066.5" y="436.3" font-size="13" font-weight="bold" fill="#fff">101.388</text>
<rect x="1054.5" y="629.2" width="57.5" height="18.4" fill="#2962f0" rx="2"/>
<text x="1066.5" y="643.1" font-size="13" font-weight="bold" fill="#fff">94.608</text>
<rect x="1054.5" y="665.3" width="57.5" height="18.4" fill="#2962f0" rx="2"/>
<text x="1066.5" y="679.2" font-size="13" font-weight="bold" fill="#fff">93.481</text>
<line x1="1054.5" y1="0" x2="1054.5" y2="721" stroke="#414141" stroke-width="1" shape-rendering="crispEdges"/>
<line x1="0" y1="687.5" x2="1117" y2="687.5" stroke="#414141" stroke-width="1" shape-rendering="crispEdges"/>
<rect x="1020" y="546.2" width="92" height="18.5" rx="2.5" fill="#d6574a"/>
<text x="1025.3" y="560.4" font-size="13" font-weight="bold" fill="#ffeee8">DXY</text>
<text x="1066.5" y="560.4" font-size="13" font-weight="bold" fill="#ffeee8">97.275</text>
<line x1="1054.5" y1="546.5" x2="1054.5" y2="564.5" stroke="#5a1a10" stroke-opacity="0.45" stroke-width="1" shape-rendering="crispEdges"/>
<g font-size="13" fill="#555" text-anchor="middle">
<text x="80.8" y="708.4">Jul</text>
<text x="224.1" y="708.4" font-weight="bold" fill="#444" font-size="13.5">2023</text>
<text x="367.4" y="708.4">Jul</text>
<text x="510.6" y="708.4" font-weight="bold" fill="#444" font-size="13.5">2024</text>
<text x="653.9" y="708.4">Jul</text>
<text x="802.7" y="708.4" font-weight="bold" fill="#444" font-size="13.5">2025</text>
<text x="945.9" y="708.4">Jul</text>
</g>
<g fill="none" stroke="#111" stroke-width="1.35" stroke-linejoin="round"><path d="M1080.4 705.2 L1084.8 697.8 L1094 697.8 L1098.4 705.2 L1094 712.6 L1084.8 712.6 Z"/><circle cx="1089.4" cy="705.2" r="2.4" stroke-width="1.2"/></g>
<circle cx="979.6" cy="670.4" r="14.3" fill="#fff"/>
<circle cx="979.6" cy="670.4" r="12.3" fill="#fff" stroke="#7d2c94" stroke-width="1.5"/>
<path d="M984.1 663.8 L974 671.8 L979.3 671.3 L975 677.3 L984.9 669.1 L979.8 669.6 Z" fill="#7d2c94" stroke="#7d2c94" stroke-width="0.7" stroke-linejoin="round"/>
<g stroke="#fff" stroke-width="3" stroke-linejoin="round" fill="#fff"><path d="M14 651 H29 V669.4 H21.5 V657.7 H14 Z"/><circle cx="35.2" cy="654.4" r="3.5"/><path d="M43 651 H51 L43.8 669.4 H35.4 Z"/><text x="60.3" y="669.4" font-size="25.4" font-weight="bold" textLength="150.8" lengthAdjust="spacingAndGlyphs">TradingView</text></g>
<g fill="#131313"><path d="M14 651 H29 V669.4 H21.5 V657.7 H14 Z"/><circle cx="35.2" cy="654.4" r="3.5"/><path d="M43 651 H51 L43.8 669.4 H35.4 Z"/><text x="60.3" y="669.4" font-size="25.4" font-weight="bold" textLength="150.8" lengthAdjust="spacingAndGlyphs">TradingView</text></g>
<circle cx="21.6" cy="19.9" r="11.2" fill="#137f6b"/>
<text x="21.6" y="25.7" font-size="16.5" font-weight="bold" fill="#e8fff8" text-anchor="middle">$</text>
<g font-size="18.6" fill="#464646"><text x="38.2" y="27.3" textLength="20" lengthAdjust="spacingAndGlyphs">US</text><text x="67.7" y="27.3" textLength="50.7" lengthAdjust="spacingAndGlyphs">Dollar</text><text x="126.4" y="27.3" textLength="46.9" lengthAdjust="spacingAndGlyphs">Index</text><text x="190.8" y="27.3" textLength="25" lengthAdjust="spacingAndGlyphs">1W</text><text x="231.9" y="27.3" textLength="110.8" lengthAdjust="spacingAndGlyphs">CAPITALCOM</text><circle cx="181" cy="21.6" r="1.5"/><circle cx="223.8" cy="21.6" r="1.5"/></g>
<clipPath id="pc"><rect x="362.3" y="8.8" width="49.3" height="21.8" rx="10.9"/></clipPath>
<g clip-path="url(#pc)"><rect x="362" y="8" width="24.5" height="24" fill="#efefef"/><rect x="386.5" y="8" width="26" height="24" fill="#fbd9e6"/></g>
<rect x="369.8" y="17.5" width="12.2" height="5.4" rx="2.7" fill="#9c9c9c"/>
<text x="398" y="26.3" font-size="18" font-weight="bold" fill="#c8336f" text-anchor="middle">≈</text>
<text x="432.0" y="25.8" font-size="14.5" textLength="59.0" lengthAdjust="spacingAndGlyphs"><tspan fill="#5a5a5a">O</tspan><tspan fill="#5a2b30">97.371</tspan></text>
<text x="500.8" y="25.8" font-size="14.5" textLength="58.3" lengthAdjust="spacingAndGlyphs"><tspan fill="#5a5a5a">H</tspan><tspan fill="#5a2b30">98.391</tspan></text>
<text x="569.0" y="25.8" font-size="14.5" textLength="56.0" lengthAdjust="spacingAndGlyphs"><tspan fill="#5a5a5a">L</tspan><tspan fill="#5a2b30">97.126</tspan></text>
<text x="634.0" y="25.8" font-size="14.5" textLength="59.5" lengthAdjust="spacingAndGlyphs"><tspan fill="#5a5a5a">C</tspan><tspan fill="#5a2b30">97.275</tspan></text>
<text x="700.9" y="25.8" font-size="14.5" fill="#5a2b30" textLength="47.3" lengthAdjust="spacingAndGlyphs">−0.089</text>
<text x="754.9" y="25.8" font-size="14.5" fill="#5a2b30" textLength="59.6" lengthAdjust="spacingAndGlyphs">(−0.09%)</text>
<rect x="9.5" y="40.5" width="75.5" height="42" rx="6.5" fill="#fff" stroke="#c8525f" stroke-width="1"/>
<text x="47.3" y="57.9" font-size="14.5" font-weight="bold" fill="#cf4257" text-anchor="middle" letter-spacing="0.8">97.275</text>
<text x="47.2" y="74.8" font-size="14" fill="#bf4a5c" text-anchor="middle" textLength="29" lengthAdjust="spacingAndGlyphs">SELL</text>
<text x="95.5" y="64.8" font-size="12.2" fill="#111">0.055</text>
<rect x="136.5" y="40.5" width="76.3" height="42" rx="6.5" fill="#fff" stroke="#3f66a8" stroke-width="1"/>
<text x="174.7" y="57.9" font-size="14.5" font-weight="bold" fill="#3a5fb4" text-anchor="middle" letter-spacing="0.8">97.330</text>
<text x="174.6" y="74.8" font-size="14" fill="#4668b4" text-anchor="middle" textLength="24.3" lengthAdjust="spacingAndGlyphs">BUY</text>
<rect x="1060" y="6" width="70" height="29.8" rx="4.5" fill="#fff" stroke="#e9e9e9" stroke-width="1"/>
<text x="1064.7" y="26.7" font-size="14.5" fill="#151515" textLength="24.5" lengthAdjust="spacingAndGlyphs">USD</text>
<path d="M1107.2 20.1 L1110.4 22.9 L1113.6 20.1" fill="none" stroke="#1a1a1a" stroke-width="1.6" stroke-linecap="round" stroke-linejoin="round"/>
</svg>
</body></html>
